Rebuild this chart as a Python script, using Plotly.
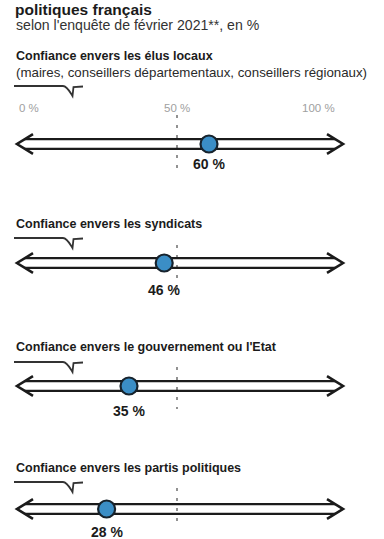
import plotly.graph_objects as go

# ---- data ----
categories = [
    "Confiance envers les élus locaux",
    "Confiance envers les syndicats",
    "Confiance envers le gouvernement ou l'Etat",
    "Confiance envers les partis politiques",
]
sub_note = "(maires, conseillers départementaux, conseillers régionaux)"
values = [60, 46, 35, 28]
tick_values = [0, 50, 100]
tick_labels = ["0 %", "50 %", "100 %"]
title = "politiques français"
subtitle = "selon l'enquête de février 2021**, en %"

# ---- layout (pixel positions) ----
W, H = 384, 539
X0_PX, PX_PER_UNIT = 17.0, 3.2          # 0 % at 17 px, 3.2 px per percent
r0 = -X0_PX / PX_PER_UNIT
r1 = r0 + W / PX_PER_UNIT


def px(xp):
    """pixel -> data x"""
    return (xp - X0_PX) / PX_PER_UNIT


rows = [
    dict(title_y=56, squig_y=86, line_y=144, label_y=164, dash=(115, 174)),
    dict(title_y=224, squig_y=238, line_y=263, label_y=290, dash=(245, 292)),
    dict(title_y=347, squig_y=362, line_y=386, label_y=411, dash=(367, 409)),
    dict(title_y=468, squig_y=482, line_y=509, label_y=532, dash=(488, 528)),
]

FONT = "Liberation Sans"
DARK = "#1b1b1b"

fig = go.Figure()
shapes = []
annotations = []

# title / subtitle
annotations.append(dict(text="<b>" + title + "</b>", x=13 / W, xref="paper", y=9, yref="y",
                        xanchor="left", yanchor="middle", showarrow=False,
                        font=dict(family=FONT, size=15.5, color=DARK)))
annotations.append(dict(text=subtitle, x=14 / W, xref="paper", y=25, yref="y",
                        xanchor="left", yanchor="middle", showarrow=False,
                        font=dict(family=FONT, size=14.1, color="#333333")))

L_TIP, R_TIP = 17, 343
for i, (cat, v, r) in enumerate(zip(categories, values, rows)):
    annotations.append(dict(text="<b>" + cat + "</b>", x=14 / W, xref="paper", y=r["title_y"], yref="y",
                            xanchor="left", yanchor="middle", showarrow=False,
                            font=dict(family=FONT, size=12.5, color=DARK)))
    if i == 0:
        annotations.append(dict(text=sub_note, x=14 / W, xref="paper", y=72, yref="y",
                                xanchor="left", yanchor="middle", showarrow=False,
                                font=dict(family=FONT, size=13.3, color="#2a2a2a")))
        for tv, tl, anc in zip(tick_values, tick_labels, ["left", "center", "right"]):
            annotations.append(dict(text=tl, x=tv, xref="x", y=108, yref="y",
                                    xanchor=anc, yanchor="middle", showarrow=False,
                                    font=dict(family=FONT, size=11.5, color="#a0a0a0")))
    # squiggle
    sy = r["squig_y"]
    shapes.append(dict(type="path", xref="x", yref="y", layer="below",
                       path=(f"M {px(14)},{sy} L {px(63)},{sy} "
                             f"C {px(67)},{sy} {px(70)},{sy+6} {px(72.5)},{sy+10} "
                             f"L {px(73.5)},{sy+1} L {px(83)},{sy+0.5}"),
                       line=dict(color="#333333", width=1.8)))
    # dashed 50 % line
    shapes.append(dict(type="line", xref="x", yref="y", layer="below",
                       x0=tick_values[1], x1=tick_values[1], y0=r["dash"][0], y1=r["dash"][1],
                       line=dict(color="#777777", width=1.6, dash="3px,7px")))
    # double arrow
    y = r["line_y"]
    hw, bl, bh = 4.8, 16, 9.8
    shapes.append(dict(type="path", xref="x", yref="y", layer="below",
                       path=(f"M {px(L_TIP + bl)},{y-bh} L {px(L_TIP)},{y} L {px(L_TIP + bl)},{y+bh}"),
                       line=dict(color=DARK, width=2.6)))
    shapes.append(dict(type="path", xref="x", yref="y", layer="below",
                       path=(f"M {px(R_TIP - bl)},{y-bh} L {px(R_TIP)},{y} L {px(R_TIP - bl)},{y+bh}"),
                       line=dict(color=DARK, width=2.6)))
    xs = bl * hw / bh
    for dy in (-hw, hw):
        shapes.append(dict(type="line", xref="x", yref="y", layer="below",
                           x0=px(L_TIP + xs), x1=px(R_TIP - xs), y0=y + dy, y1=y + dy,
                           line=dict(color=DARK, width=2.2)))
    # value label
    annotations.append(dict(text=f"<b>{v} %</b>", x=v, xref="x", y=r["label_y"], yref="y",
                            xanchor="center", yanchor="middle", showarrow=False,
                            font=dict(family=FONT, size=14, color=DARK)))

fig.add_trace(go.Scatter(
    x=values, y=[r["line_y"] for r in rows], mode="markers",
    marker=dict(size=17, color="#3b8ec6", line=dict(color="#17232d", width=2.2)),
    hoverinfo="skip", showlegend=False))

fig.update_layout(
    width=W, height=H, margin=dict(l=0, r=0, t=0, b=0),
    paper_bgcolor="white", plot_bgcolor="white",
    xaxis=dict(range=[r0, r1], visible=False, fixedrange=True),
    yaxis=dict(range=[H, 0], visible=False, fixedrange=True),
    shapes=shapes, annotations=annotations, showlegend=False,
)

fig.write_html("out.html")
